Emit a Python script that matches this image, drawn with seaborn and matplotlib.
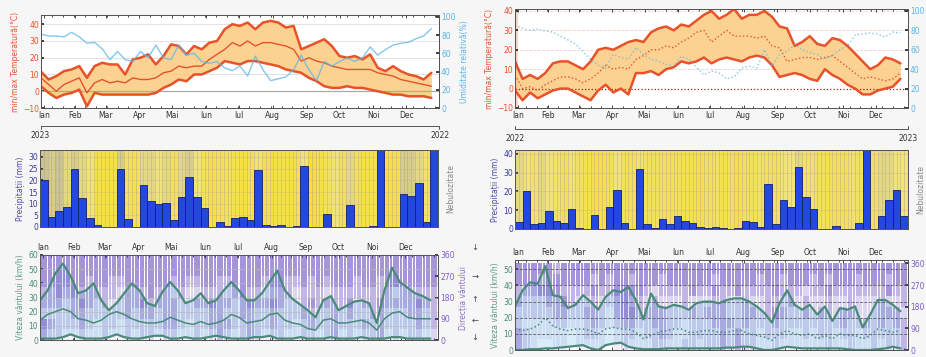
import numpy as np
import matplotlib
matplotlib.use("Agg")
import matplotlib.pyplot as plt
import seaborn as sns
from matplotlib.colors import LinearSegmentedColormap, to_rgb
from matplotlib.lines import Line2D

sns.set_theme(style="white")
plt.rcParams['font.family'] = ['DejaVu Sans']

# ---------------------------------------------
# date
# ---------------------------------------------
months = ["Ian", "Feb", "Mar", "Apr", "Mai", "Iun", "Iul", "Aug", "Sep", "Oct", "Noi", "Dec"]
month_start_days = [0, 31, 59, 90, 120, 151, 181, 212, 243, 273, 304, 334]

# stanga (2023)
L_tmax = [11.7, 7, 9, 12, 13, 15, 8, 15, 17, 16, 16, 10, 19, 20, 22, 16, 21, 28, 27, 22,
          27, 25, 29, 30, 37, 40, 39, 41, 37, 41, 42, 41, 38, 39, 25, 27, 29, 31, 27, 21,
          20, 21, 19, 22, 14, 12, 15, 12, 10, 9, 7, 11]
L_tmean = [8, 4, 0, 4, 6, 8, -1, 5, 7, 5, 6, 5, 8, 7, 7, 8, 11, 12, 15, 14,
           15, 15, 19, 22, 25, 29, 27, 30, 27, 29, 29, 28, 27, 25, 18, 20, 18, 17, 15, 14,
           13, 13, 13, 13, 11, 10, 9, 7, 6, 5, 4, 3]
L_tmin = [3, -1, -4, -2, -1, 1, -9, -1, -2, -2, -2, -2, -2, -2, -2, -1, 2, 4, 7, 6,
          10, 10, 12, 14, 18, 17, 16, 18, 18, 17, 16, 15, 13, 12, 11, 8, 6, 3, 2, 2,
          3, 2, 2, 1, 0, -1, -2, -2, -3, -3, -3, -4]
L_hum = [81, 79, 79, 78, 83, 78, 71, 72, 65, 53, 62, 53, 51, 62, 55, 69, 55, 53, 69, 58,
         60, 51, 49, 51, 44, 41, 46, 35, 57, 42, 30, 32, 34, 42, 58, 42, 30, 51, 46, 51,
         55, 51, 55, 67, 58, 64, 69, 71, 72, 76, 79, 87]
L_precip = [20, 4.5, 7, 8.5, 25, 12.5, 4, 1, 0, 0, 25, 3.5, 0, 18, 11, 10, 10.5, 3, 13, 21.5,
            13, 8, 0, 2, 0.5, 4, 4.5, 3, 24.5, 1, 0.5, 1, 0, 0.5, 26, 0, 0, 5.5, 0, 0,
            9.5, 0, 0, 0.5, 33, 0, 0, 14, 13.5, 19, 2, 33]
L_cloud = [0.8, 0.7, 0.8, 0.6, 0.7, 0.6, 0.5, 0.2, 0.1, 0.1, 0.7, 0.3, 0.2, 0.6, 0.6, 0.5, 0.6, 0.3, 0.6, 0.7,
           0.5, 0.3, 0.1, 0.2, 0.3, 0.2, 0.1, 0.2, 0.5, 0.2, 0.1, 0.2, 0.1, 0.2, 0.5, 0.0, 0.1, 0.3, 0.5, 0.3,
           0.6, 0.3, 0.1, 0.2, 0.5, 0.1, 0.1, 0.7, 0.7, 0.6, 0.4, 0.6]
L_wmax = [28, 35, 47, 54, 45, 33, 35, 40, 28, 21, 26, 33, 40, 35, 26, 24, 34, 41, 35, 26,
          28, 33, 26, 28, 35, 41, 35, 28, 28, 33, 41, 49, 35, 29, 25, 21, 16, 28, 31, 21,
          24, 27, 28, 26, 12, 35, 51, 41, 37, 33, 31, 28]
L_wmean = [14, 18, 20, 22, 20, 15, 14, 12, 14, 18, 20, 18, 15, 13, 12, 12, 13, 16, 14, 12,
           11, 13, 11, 12, 14, 18, 16, 12, 13, 14, 18, 19, 14, 12, 11, 8, 7, 14, 15, 12,
           12, 13, 14, 12, 7, 15, 19, 20, 16, 15, 15, 15]
L_wmin = [1, 1, 1, 2, 4, 2, 1, 1, 1, 2, 4, 2, 1, 1, 2, 3, 3, 1, 1, 2,
          1, 1, 2, 3, 2, 1, 1, 1, 2, 2, 3, 1, 1, 1, 2, 1, 1, 1, 2, 1,
          1, 1, 2, 1, 1, 1, 2, 2, 1, 1, 1, 1]
# densitate directie vant, 8 sectoare 0-360 (de jos in sus)
L_dir = ["34233444", "23233444", "22234444", "12223444", "12334444", "23343444", "12233344", "11223444",
         "22233444", "12223344", "11222344", "22333444", "12233444", "22343444", "22334444", "12233444",
         "23333444", "23332344", "12223444", "11222344", "22232344", "12233444", "23343444", "33333344",
         "23232344", "12223444", "22334444", "33343444", "22233444", "12232344", "23343444", "22233444",
         "12223344", "11222344", "22333444", "23343344", "12233444", "22232344", "33333444", "12233444",
         "22343444", "12223344", "23233444", "22333444", "33343344", "12233444", "22232444", "12233444",
         "22333444", "23343444", "12233444", "23333444"]

# dreapta (2022)
R_tmax = [14, 5, 7, 5, 8, 13, 14, 14, 12, 10, 14, 20, 21, 20, 22, 24, 25, 24, 29, 31,
          32, 30, 33, 32, 35, 38, 40, 36, 38, 41, 36, 38, 38, 40, 37, 32, 31, 22, 24, 27,
          23, 22, 26, 25, 22, 18, 14, 10, 12, 16, 15, 13]
R_tmean = [7, 0, 1, -1, 2, 4, 6, 6, 5, 3, 5, 8, 12, 10, 11, 10, 15, 17, 20, 20,
           22, 21, 24, 26, 29, 30, 24, 27, 30, 27, 27, 27, 26, 27, 22, 21, 14, 15, 16, 16,
           15, 16, 17, 14, 11, 8, 5, 6, 5, 4, 5, 8]
R_tmin = [-1, -6, -2, -5, -3, -1, 0, 0, -2, -4, -6, -1, 2, -2, 0, -3, 8, 8, 9, 7,
          10, 11, 14, 13, 14, 16, 13, 15, 16, 15, 14, 16, 17, 16, 12, 6, 7, 8, 7, 5,
          4, 10, 7, 5, 2, 0, -3, -3, -1, 0, 1, 5]
R_hum = [85, 82, 80, 81, 79, 78, 74, 70, 66, 58, 50, 44, 41, 55, 52, 50, 62, 55, 50, 48,
         45, 43, 53, 50, 42, 34, 38, 36, 30, 32, 41, 43, 41, 60, 43, 55, 58, 65, 60, 57,
         55, 50, 54, 60, 64, 75, 76, 77, 76, 73, 78, 77]
R_precip = [3.5, 20, 2.5, 3, 9.5, 4.5, 3, 10.5, 0.5, 0, 7.5, 0, 11.5, 21, 3, 0, 32, 2.5, 0.5, 5.5,
            2.5, 7, 4.5, 3, 1, 0.5, 1, 0.5, 0, 0.5, 4.5, 3.5, 1, 24, 2.5, 15.5, 11.5, 33, 17, 10.5,
            0, 0, 1.5, 0, 0, 3, 42, 0, 7, 15.5, 21, 7]
R_cloud = [0.6, 0.5, 0.4, 0.6, 0.5, 0.4, 0.3, 0.5, 0.3, 0.2, 0.1, 0.1, 0.3, 0.5, 0.3, 0.2, 0.4, 0.3, 0.3, 0.3,
           0.2, 0.3, 0.2, 0.2, 0.1, 0.3, 0.3, 0.2, 0.3, 0.1, 0.3, 0.3, 0.4, 0.3, 0.3, 0.5, 0.5, 0.6, 0.4, 0.4,
           0.3, 0.2, 0.2, 0.3, 0.4, 0.3, 0.5, 0.3, 0.6, 0.6, 0.5, 0.5]
R_wmax = [27, 37, 42, 41, 52, 34, 33, 26, 28, 34, 30, 25, 33, 37, 36, 39, 31, 19, 35, 27,
          26, 28, 27, 25, 29, 30, 30, 29, 31, 32, 32, 30, 27, 23, 17, 29, 37, 28, 25, 28,
          22, 27, 18, 26, 25, 27, 14, 22, 31, 31, 28, 24]
R_wmean = [13, 12, 13, 15, 20, 15, 13, 12, 13, 13, 12, 10, 13, 14, 13, 13, 11, 7, 9, 11,
           12, 13, 13, 11, 11, 12, 12, 11, 11, 12, 12, 10, 9, 8, 6, 10, 12, 10, 9, 10,
           7, 9, 7, 10, 9, 9, 7, 9, 13, 12, 11, 12]
R_wmin = [0, 0, 0.5, 0.5, 1, 1, 1.5, 2, 2.5, 3, 1, 0, 3, 4, 4.5, 2, 1, 0.5, 0.5, 0.5,
          1, 1, 1, 1, 1, 1, 1, 1, 1.5, 1.5, 2, 2, 1, 0, 0, 1, 2, 1.5, 1, 1,
          1, 1, 1, 1, 0.5, 0, 0, 0, 0.5, 1, 2, 1]
R_dir = ["33223344", "22122344", "11122344", "01122434", "01123444", "11233443", "11234344", "00123344",
         "11122344", "12232344", "12333434", "11222344", "00112334", "11233444", "22344444", "12343434",
         "11233444", "12232344", "22333244", "23332334", "12222344", "11222344", "21123344", "22232444",
         "12222344", "22232344", "22333434", "33333344", "22322344", "33222444", "22333344", "22232344",
         "11222334", "12233344", "22343444", "12232334", "11223344", "11222344", "12233244", "11222334",
         "12232344", "22233434", "11222344", "12332344", "22233344", "11222334", "12322344", "22222344",
         "12333344", "22232434", "22332344", "33323344"]

# ---------------------------------------------
# culori
# ---------------------------------------------
RED = "#e8522a"
ORANGE_FILL = "#fbcd86"
HUM = "#5db4e8"
BAR = "#2348e0"
WIND = "#4b8a78"
WIND_FILL = "#d8edf8"
PURPLE = "#5a3cb8"
DIR_ALPHA = [0.0, 0.1, 0.25, 0.45, 0.65]
cloud_cmap = LinearSegmentedColormap.from_list("nor", ["#f7de3a", "#f2e27a", "#b0aea0"])

W, H = 926, 357
fig = plt.figure(figsize=(W / 100, H / 100), dpi=100)
fig.patch.set_facecolor("#f6f6f6")

weeks = np.arange(52)
month_pos = [d / 7 for d in month_start_days]
month_pos[0] = 0.4


def rect(x0, y0, x1, y1):
    return [x0 / W, 1 - y1 / H, (x1 - x0) / W, (y1 - y0) / H]


def month_axis(ax, top=False):
    ax.set_xlim(0, 52)
    ax.set_xticks(month_pos)
    ax.set_xticklabels(months, fontsize=5.5, color="#333333")
    ax.set_xticks(np.arange(0, 52, 10 / 7), minor=True)
    ax.tick_params(axis="x", which="both", direction="in", length=2, width=0.6, pad=2,
                   top=True, bottom=True, labeltop=top, labelbottom=not top)
    ax.tick_params(axis="x", which="minor", length=1.5)


def style_spines(ax):
    for s in ax.spines.values():
        s.set_color("#555555")
        s.set_linewidth(0.7)


def temp_panel(r, tmax, tmean, tmin, hum, ytop, htop, dotted, hum_label):
    ax = fig.add_axes(r)
    ax.set_facecolor("white")
    ls = ":" if dotted else "-"
    ax.fill_between(weeks, tmin, tmax, color=ORANGE_FILL, alpha=0.9, lw=0)
    for v in range(10, 41, 10):
        ax.axhline(v, color="#f0d0c8" if dotted else "#dddddd", lw=0.6, ls="--" if dotted else "-", zorder=0)
    ax.axhline(0, color="#8b2b1c" if dotted else "#aaaaaa", lw=0.9, ls=":" if dotted else "-", zorder=1)
    sns.lineplot(x=weeks, y=tmax, ax=ax, color=RED, lw=1.8)
    sns.lineplot(x=weeks, y=tmin, ax=ax, color=RED, lw=1.8)
    sns.lineplot(x=weeks, y=tmean, ax=ax, color=RED, lw=1.0, linestyle=ls)
    ax.set_ylim(-10, ytop)
    ax.set_yticks(range(-10, 41, 10))
    ax.tick_params(axis="y", direction="in", length=2, labelsize=5.5, labelcolor=RED, pad=1.5)
    ax.set_ylabel("min/max Temperatură(°C)", fontsize=5.5, color=RED, labelpad=2)
    month_axis(ax)
    style_spines(ax)
    ax2 = ax.twinx()
    sns.lineplot(x=weeks, y=hum, ax=ax2, color=HUM, lw=1.0, alpha=0.75, linestyle=ls)
    ax2.set_ylim(0, htop)
    ax2.set_yticks(range(0, 101, 20))
    ax2.tick_params(axis="y", direction="in", length=2, labelsize=5.5, labelcolor=HUM, pad=1.5)
    if hum_label:
        ax2.set_ylabel("Umiditate relativă(%)", fontsize=5.5, color=HUM, labelpad=3)
    style_spines(ax2)
    return ax


def precip_panel(r, precip, cloud, ytop, tick_step):
    ax = fig.add_axes(r)
    ax.pcolormesh(np.arange(53), [0, ytop], [cloud], cmap=cloud_cmap, vmin=0, vmax=1, shading="flat", zorder=0)
    ax.vlines(np.arange(0, 52, 0.5), 0, ytop, color="#9c9a90", lw=0.45, alpha=0.55, zorder=1)
    for v in range(tick_step, int(ytop) + 1, tick_step):
        ax.axhline(v, color="#b8b090", lw=0.4, alpha=0.6, zorder=1)
    ax.bar(weeks + 0.5, precip, width=1.0, color=BAR, edgecolor="#15206a", lw=0.6, zorder=2)
    ax.set_xlim(0, 52)
    ax.set_ylim(0, ytop)
    ax.set_xticks([])
    ax.set_yticks(range(0, int(ytop) + 1, tick_step))
    ax.tick_params(axis="y", direction="in", length=2, labelsize=5.5, labelcolor="#3a3a9a", pad=1.5)
    ax.set_ylabel("Precipitații (mm)", fontsize=5.5, color="#4a4aa8", labelpad=2)
    style_spines(ax)
    ax2 = ax.twinx()
    ax2.set_yticks([])
    ax2.set_ylabel("Nebulozitate", fontsize=5.5, color="#888888", labelpad=6)
    style_spines(ax2)
    return ax


def wind_panel(r, wmax, wmean, wmin, dens, ytop, dtop, dotted, dir_label, dashed_grid):
    ax = fig.add_axes(r)
    ax.set_facecolor("white")
    ax.fill_between(weeks, wmin, wmax, color=WIND_FILL, lw=0)
    ax.set_ylim(0, ytop)
    ax.set_yticks(range(0, int(ytop) + 1, 10))
    ax.tick_params(axis="y", direction="in", length=2, labelsize=5.5, labelcolor=WIND, pad=1.5)
    ax.set_ylabel("Viteza vântului (km/h)", fontsize=5.5, color="#5e9a8a", labelpad=2)
    month_axis(ax, top=True)
    style_spines(ax)
    # directie: dungi verticale, intensitatea dupa densitate
    axd = ax.twinx()
    grid = np.array([[int(c) for c in s] for s in dens])
    cell_h = r[3] * H / (dtop / 45) * 0.72
    rgb = to_rgb(PURPLE)
    for k in range(8):
        dk = grid[:, k]
        on = dk > 0
        cols = [(*rgb, DIR_ALPHA[d]) for d in dk[on]]
        for off in (0.2, 0.5, 0.8):
            axd.scatter(weeks[on] + off, np.full(on.sum(), 45 * k + 22.5), marker="|",
                        s=cell_h ** 2, linewidths=1.2, c=cols, zorder=1)
    axd.set_ylim(0, dtop)
    axd.set_yticks(range(0, 361, 90))
    axd.tick_params(axis="y", direction="in", length=2, labelsize=5.5, labelcolor="#7b5fc7", pad=1.5)
    if dir_label:
        axd.set_ylabel("Direcția vântului", fontsize=5.5, color="#8a70c8", labelpad=3)
    style_spines(axd)
    # linii deasupra
    axl = ax.twinx()
    axl.set_ylim(0, ytop)
    axl.set_yticks([])
    for v in range(10, int(ytop) + 1, 10):
        axl.axhline(v, color="#444444" if dashed_grid else "#bbbbbb", lw=0.6,
                    ls="--" if dashed_grid else "-", alpha=0.8, zorder=0)
    sns.lineplot(x=weeks, y=wmax, ax=axl, color=WIND, lw=1.6)
    sns.lineplot(x=weeks, y=wmin, ax=axl, color=WIND, lw=1.6)
    sns.lineplot(x=weeks, y=wmean, ax=axl, color=WIND, lw=1.1, linestyle=":" if dotted else "-")
    axl.set_xlim(0, 52)
    style_spines(axl)
    return ax


# ---------------------------------------------
# coloana stanga
# ---------------------------------------------
axT = temp_panel(rect(41, 15, 439, 108), L_tmax, L_tmean, L_tmin, L_hum, 45.5, 102, False, True)
precip_panel(rect(40, 150, 438, 227), L_precip, L_cloud, 33, 5)
wind_panel(rect(40, 255, 438, 340), L_wmax, L_wmean, L_wmin, L_dir, 60, 360, False, True, False)

# ---------------------------------------------
# coloana dreapta
# ---------------------------------------------
ax_r = temp_panel(rect(515, 9, 908, 108), R_tmax, R_tmean, R_tmin, R_hum, 41, 101.7, True, False)
ax_r.axvspan(0, 0.35, color="#f6b8a6", alpha=0.6, lw=0, zorder=0)
precip_panel(rect(515, 150, 908, 229), R_precip, R_cloud, 42, 10)
wind_panel(rect(515, 260, 908, 350), R_wmax, R_wmean, R_wmin, R_dir, 55.8, 374, True, False, True)

# ---------------------------------------------
# interval ani + sageti directie
# ---------------------------------------------
def fx(x):
    return x / W


def fy(y):
    return 1 - y / H


for x0, x1, y, tick in [(41, 439, 126, 2.5), (515, 908, 129, -3.5)]:
    fig.add_artist(Line2D([fx(x0), fx(x1)], [fy(y), fy(y)], color="#555555", lw=0.7))
    for x in (x0, x1):
        fig.add_artist(Line2D([fx(x), fx(x)], [fy(y), fy(y + tick)], color="#555555", lw=0.7))

fig.text(fx(40), fy(135), "2023", fontsize=5.5, color="#333333", ha="center", va="center")
fig.text(fx(440), fy(135), "2022", fontsize=5.5, color="#333333", ha="center", va="center")
fig.text(fx(515), fy(139), "2022", fontsize=5.5, color="#333333", ha="center", va="center")
fig.text(fx(908), fy(139), "2023", fontsize=5.5, color="#333333", ha="center", va="center")

for y, arrow in [(247, "↓"), (276, "→"), (300, "↑"), (320, "←"), (338, "↓")]:
    fig.text(fx(475), fy(y), arrow, fontsize=6, color="#444444", ha="center", va="center")

fig.savefig("out.png", dpi=100, facecolor=fig.get_facecolor())
